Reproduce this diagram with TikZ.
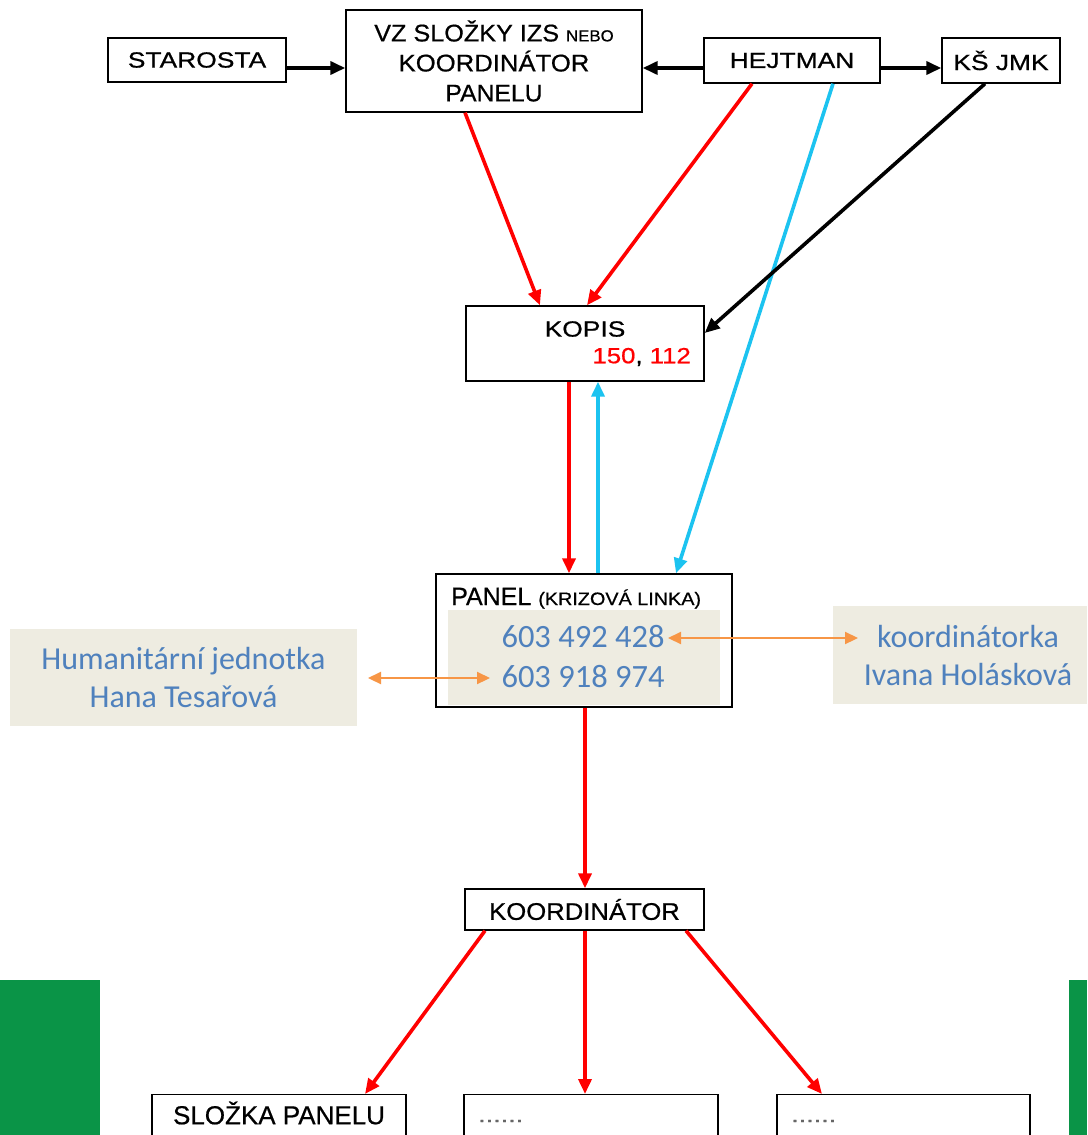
\documentclass[tikz,border=0pt]{standalone}
\usepackage{fontspec}
\setmainfont[FakeBold=0.6]{Liberation Sans}
\newfontfamily\calfont{Carlito}
\usetikzlibrary{arrows.meta}
\definecolor{beige}{HTML}{EEECE1}
\definecolor{txtblue}{HTML}{4F81BD}
\definecolor{orng}{HTML}{F79646}
\definecolor{cyanl}{HTML}{1CC3F0}
\definecolor{grn}{HTML}{0A9447}
\newcommand\stx[2]{\scalebox{#1}[1]{#2}}
\newcommand\fs[1]{\fontsize{#1}{30}\selectfont}
\tikzset{
  box/.style={draw, line width=1.4pt, fill=white, inner sep=0pt, align=center,
    font=\fs{22}},
  note/.style={fill=beige, inner sep=0pt, align=center, text=txtblue,
    font=\calfont\fontsize{32}{38}\selectfont},
  phone/.style={inner sep=0pt, text=txtblue, font=\calfont\fontsize{32.5}{38}\selectfont},
  plain/.style={inner sep=0pt},
  conn/.style={line width=3.6pt, -{Triangle[length=15pt,width=13pt]}},
  red conn/.style={conn, red},
  cyan conn/.style={conn, cyanl},
  blk conn/.style={conn, black},
  orange conn/.style={line width=2.2pt, orng, {Triangle[length=13pt,width=12pt]}-{Triangle[length=13pt,width=12pt]}}
}
\begin{document}
\begin{tikzpicture}[x=1pt,y=-1pt]
\useasboundingbox (0,0) rectangle (1087,1135);
\clip (0,0) rectangle (1087,1135);
\fill[white] (0,0) rectangle (1087,1135);
% green bars
\fill[grn] (0,980) rectangle (100,1135);
\fill[grn] (1069,980) rectangle (1087,1135);

% top row
\node[box, minimum width=178pt, minimum height=44pt] (staro) at (197,60) {\stx{1.2}{STAROSTA}};
\node[box, minimum width=296pt, minimum height=102pt, font=\fs{24}] (vz) at (494,61)
  {\stx{1.05}{VZ SLOŽKY IZS {\fs{16}NEBO}}\\\stx{1.07}{KOORDINÁTOR}\\\stx{1.03}{PANELU}};
\node[box, minimum width=176pt, minimum height=45pt] (hejt) at (792,60.5) {\stx{1.2}{HEJTMAN}};
\node[box, minimum width=118pt, minimum height=45pt] (ks) at (1001,60.5) {\stx{1.2}{KŠ JMK}};

% KOPIS
\node[box, minimum width=238pt, minimum height=75pt] (kopis) at (585,343.5) {};
\node[plain, font=\fs{22}] (kopist) at (585,329) {\stx{1.2}{KOPIS}};
\node[plain, font=\fs{22}, anchor=east] (kopisn) at (691,357)
  {\stx{1.17}{\textcolor{red}{150}, \textcolor{red}{112}}};

% PANEL
\node[box, minimum width=296pt, minimum height=133pt] (panel) at (584,640.5) {};
\node[fill=beige, minimum width=272pt, minimum height=95pt, inner sep=0pt] (panelin) at (584,657.5) {};
\node[plain, anchor=base west, font=\fs{25}] (paneltitle) at (451,605)
  {PANEL \stx{1.1}{\fs{18}(KRIZOVÁ LINKA)}};
\node[phone] (tel1) at (583,637) {603 492 428};
\node[phone] (tel2) at (583,677) {603 918 974};

% side notes
\node[note, minimum width=347pt, minimum height=97pt] (hum) at (183.5,677.5)
  {Humanitární jednotka\\Hana Tesařová};
\node[fill=beige, minimum width=254pt, minimum height=98pt, inner sep=0pt] (koordka) at (960,655) {};
\node[note, fill=none] (koordkat) at (968,655) {koordinátorka\\Ivana Holásková};

% KOORDINATOR
\node[box, minimum width=239pt, minimum height=41pt, font=\fs{24}] (koord) at (584.5,909.5) {\stx{1.07}{KOORDINÁTOR}};

% bottom row
\node[box, minimum width=254pt, minimum height=60pt, anchor=north] (slozka) at (279,1094) {};
\node[plain, font=\fs{26}] (slozkat) at (279,1113) {SLOŽKA PANELU};
\node[box, minimum width=254pt, minimum height=60pt, anchor=north] (dots1) at (591,1094) {};
\node[plain, anchor=base west, text=black!60, font=\fs{20}] (dots1t) at (478,1122) {\stx{1.35}{......}};
\node[box, minimum width=253pt, minimum height=60pt, anchor=north] (dots2) at (903.5,1094) {};
\node[plain, anchor=base west, text=black!60, font=\fs{20}] (dots2t) at (791,1122) {\stx{1.35}{......}};

% top connectors
\draw[blk conn] (staro.east |- 0,68) -- (vz.west |- 0,68);
\draw[blk conn] (hejt.west |- 0,68) -- (vz.east |- 0,68);
\draw[blk conn] (hejt.east |- 0,68) -- (ks.west |- 0,68);

\draw[red conn] (vz.south -| 465,0) -- (kopis.north -| 540,0);
\draw[red conn] (hejt.south -| 752,0) -- (kopis.north -| 587,0);
\draw[cyan conn] (hejt.south -| 833,0) -- (panel.north -| 676,0);
\draw[blk conn] (ks.south -| 985,0) -- (kopis.east |- 0,333);

\draw[red conn] (kopis.south -| 569,0) -- (panel.north -| 569,0);
\draw[cyan conn] (panel.north -| 598,0) -- (kopis.south -| 598,0);

\draw[red conn] (panel.south -| 585,0) -- (koord.north -| 585,0);

\draw[red conn] (koord.south -| 485,0) -- (slozka.north -| 365,0);
\draw[red conn] (koord.south -| 585,0) -- (dots1.north -| 585,0);
\draw[red conn] (koord.south -| 686,0) -- (dots2.north -| 822,0);

% orange connectors
\coordinate (humend) at (368,678);
\coordinate (koordkaend) at (858,638);
\draw[orange conn] (humend) -- (490,678);
\draw[orange conn] (668,638) -- (koordkaend);
\end{tikzpicture}
\end{document}
